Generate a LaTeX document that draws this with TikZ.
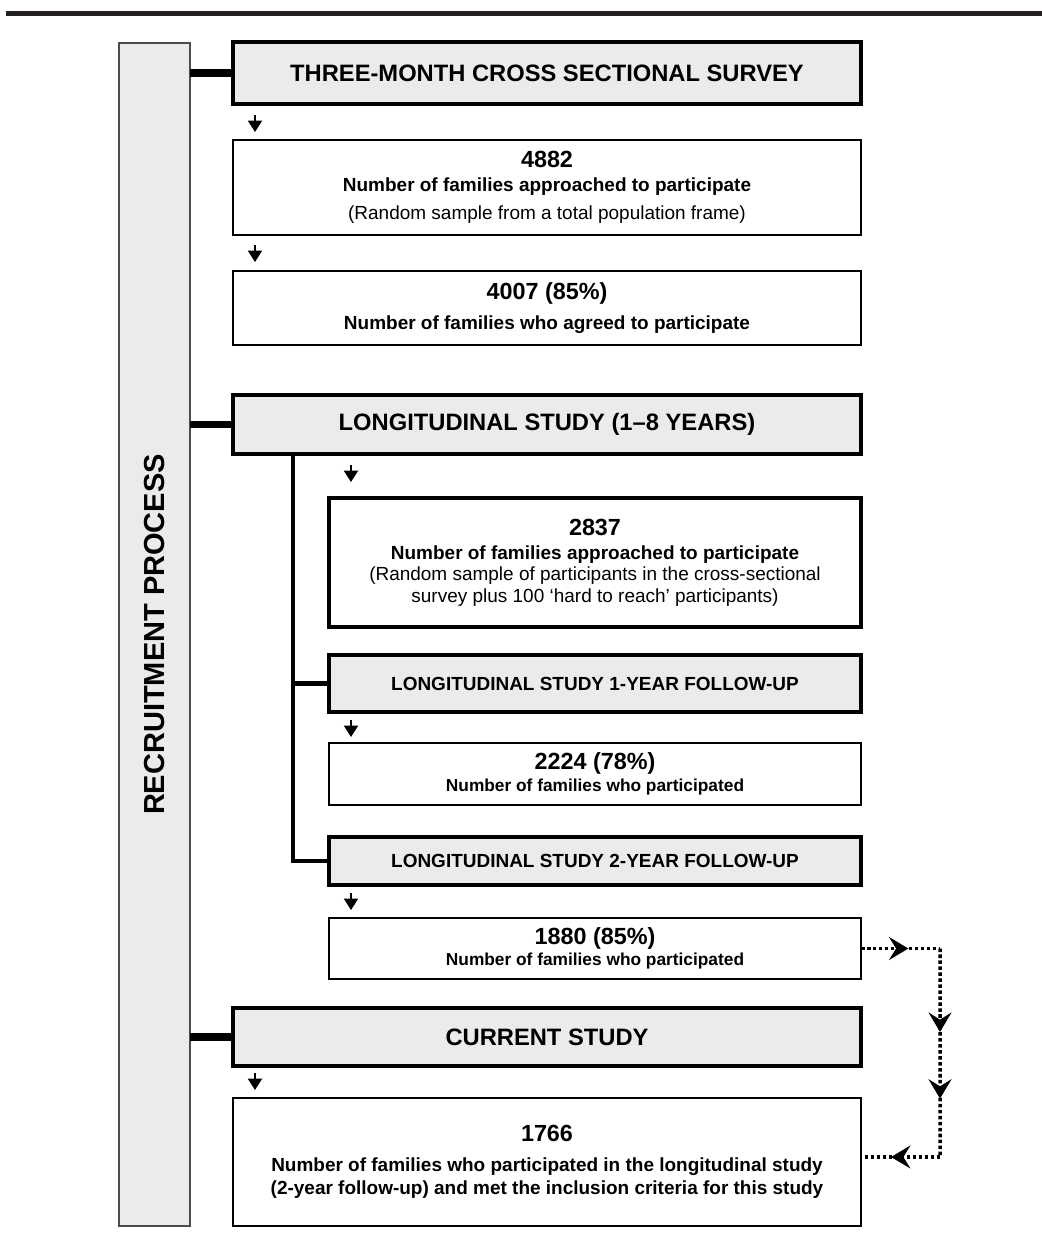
\documentclass[tikz,border=0pt]{standalone}
\usepackage{fontspec}
\setmainfont{Liberation Sans}
\usetikzlibrary{arrows.meta}
\usetikzlibrary{decorations.markings}

\definecolor{boxgray}{HTML}{EBEBEB}
\definecolor{rulegray}{HTML}{231F20}

\newcommand{\famnum}[1]{{\fontsize{13.3}{12.2}\selectfont #1}}

\tikzset{
    headbox/.style={draw, line width=2.6pt, fill=boxgray, anchor=north west, inner sep=0pt, outer sep=0pt,
        minimum width=125.6mm, minimum height=12.4mm, font=\bfseries\fontsize{13.5}{16}\selectfont},
    subhead/.style={headbox, minimum width=106.4mm, font=\bfseries\fontsize{10.8}{13}\selectfont},
    countbox/.style={draw, line width=0.8pt, fill=white, anchor=north west, inner sep=0pt, outer sep=0pt,
        minimum width=125.6mm, align=center, font=\bfseries\fontsize{10.8}{12.2}\selectfont},
    sidebar/.style={draw=black!70, line width=0.7pt, fill=boxgray, inner sep=0pt, outer sep=0pt,
        minimum width=14.2mm, minimum height=236.6mm, font=\bfseries\fontsize{16.5}{18}\selectfont},
    linkbar/.style={line width=4.2pt},
    spine/.style={line width=2.6pt},
    flowarr/.style={line width=1.1pt, -{Triangle[length=6.5pt,width=8pt]}},
    dotret/.style={line width=2pt, dash pattern=on 2pt off 1.4pt},
    midarr/.style={postaction={decorate, decoration={markings,
        mark=at position #1 with {\pgfsetdash{}{0pt}\arrow{Stealth[length=11pt,width=13pt,inset=4pt]}}}}}
}

\begin{document}
\begin{tikzpicture}[x=0.2mm,y=-0.2mm]
    \useasboundingbox (0,0) rectangle (1042,1248);
    \draw[line width=2.8pt, rulegray] (6,13.5) -- (1042,13.5);

    % Recruitment process
    \node[sidebar] (rp) at (154.5,634.5) {\rotatebox{90}{RECRUITMENT PROCESS}};

    % Cross sectional survey
    \node[headbox] (b1) at (233,42) {THREE-MONTH CROSS SECTIONAL SURVEY};
    \node[countbox, minimum height=19mm] (b2) at (233,140)
        {\famnum{4882}\\[1.5pt] Number of families approached to participate\\[3.5pt]
         \mdseries (Random sample from a total population frame)};
    \node[countbox, minimum height=14.8mm] (b3) at (233,271)
        {\famnum{4007 (85\%)}\\[5pt] Number of families who agreed to participate};

    % Longitudinal study
    \node[headbox, minimum height=11.8mm] (b4) at (233,395) {LONGITUDINAL STUDY (1–8 YEARS)};
    \node[countbox, line width=2.4pt, minimum width=106.4mm, minimum height=25.8mm] (b5) at (329,498)
        {\famnum{2837}\\[1.6pt] Number of families approached to participate\\
         \mdseries (Random sample of participants in the cross-sectional\\
         \mdseries survey plus 100 ‘hard to reach’ participants)};
    \node[subhead, minimum height=11.4mm] (b6) at (329,655) {LONGITUDINAL STUDY 1-YEAR FOLLOW-UP};
    \node[countbox, minimum width=106.4mm, minimum height=12.4mm] (b7) at (329,743)
        {\famnum{2224 (78\%)}\\[0.5pt] {\fontsize{9.85}{11}\selectfont Number of families who participated}};
    \node[subhead, minimum height=9.6mm] (b8) at (329,837) {LONGITUDINAL STUDY 2-YEAR FOLLOW-UP};
    \node[countbox, minimum width=106.4mm, minimum height=12.2mm] (b9) at (329,918)
        {\famnum{1880 (85\%)}\\[-0.5pt] {\fontsize{9.85}{11}\selectfont Number of families who participated}};

    % Current study
    \node[headbox, minimum height=11.6mm] (b10) at (233,1008) {CURRENT STUDY};
    \node[countbox, minimum height=25.6mm] (b11) at (233,1098)
        {\famnum{1766}\\[5pt] Number of families who participated in the longitudinal study\\[1pt]
         (2-year follow-up) and met the inclusion criteria for this study};

    % links to the side bar
    \foreach \b in {b1,b4,b10}{
        \draw[linkbar] (rp.east |- \b.west) -- (\b.west);
    }
    \coordinate (sp) at ([shift={(60,0)}]b4.south west);
    \draw[spine] (sp) |- (b8.west);
    \draw[spine, line width=3.2pt] (sp |- b6.west) -- (b6.west);

    % flow arrows
    \foreach \b/\dy in {b2/25,b3/26,b5/33,b7/23,b9/25,b11/25}{
        \draw[flowarr] ([shift={(22,-\dy)}]\b.north west) -- ++(0,17);
    }

    % return path
    \coordinate (r1) at ([shift={(79,0)}]b9.east);
    \coordinate (r2) at ([shift={(79,-5)}]b11.east);
    \draw[dotret, midarr=0.6] (b9.east) -- (r1);
    \draw[dotret, midarr=0.4, midarr=0.72] (r1) -- (r2);
    \draw[dotret, midarr=0.62] (r2) -- (r2 -| b11.east);
\end{tikzpicture}
\end{document}
